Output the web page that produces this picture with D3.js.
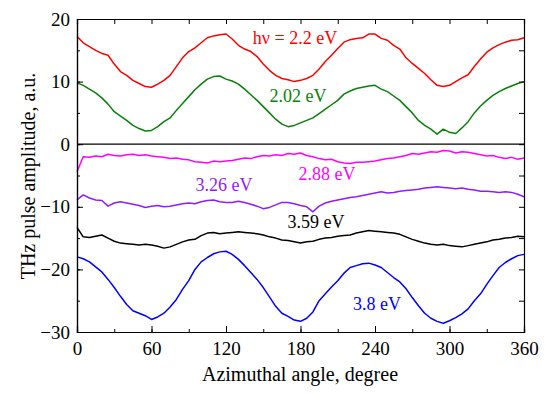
<!DOCTYPE html>
<html>
<head>
<meta charset="utf-8">
<script src="https://d3js.org/d3.v7.min.js"></script>
<style>
  body { margin: 0; background: #fff; }
  svg text { font-family: "Liberation Serif", "Times New Roman", serif; }
</style>
</head>
<body>
<div id="chart"></div>
<script>
// angles, every 5 degrees
const angles = d3.range(0, 361, 5);

// pulse amplitude, one array per photon energy
const red220 = [17.2,16.2,15.6,15.0,14.5,14.2,12.8,11.6,11.0,10.2,9.7,9.2,9.1,9.6,10.2,11.0,12.4,13.8,14.8,15.4,16.2,17.0,17.3,17.5,17.6,16.8,15.8,15.2,14.8,14.0,12.8,11.8,11.0,10.5,10.3,10.0,10.2,10.5,11.0,12.0,13.2,14.2,15.3,16.3,16.7,16.9,17.0,17.6,17.6,16.9,16.6,15.8,15.2,13.8,12.9,12.1,11.3,10.3,9.4,9.2,9.4,10.0,10.6,11.1,12.4,13.6,14.7,15.4,15.9,16.3,16.6,16.7,17.0];
const green202 = [9.8,9.4,8.8,8.2,7.4,6.4,5.2,4.5,3.8,3.0,2.5,2.1,2.2,2.8,3.6,4.2,5.4,6.5,7.6,8.7,9.6,10.4,10.8,10.9,10.4,10.1,9.6,8.8,7.9,7.0,6.0,5.0,4.0,3.2,2.8,3.0,3.4,3.8,4.2,4.9,5.6,6.3,7.0,8.0,8.5,8.9,9.1,9.3,9.4,8.8,8.4,7.7,7.0,6.0,5.0,3.8,3.0,2.4,1.6,2.4,1.9,1.7,2.6,3.6,5.0,6.1,7.0,7.8,8.4,8.9,9.3,9.7,10.0];
const magenta288 = [-4.4,-2.0,-2.1,-1.9,-2.0,-1.6,-1.8,-1.9,-1.7,-1.6,-1.8,-1.7,-1.9,-2.0,-2.1,-2.3,-2.2,-2.4,-2.5,-2.8,-2.9,-3.0,-2.7,-2.8,-2.7,-2.6,-2.4,-2.2,-2.3,-2.0,-1.8,-1.9,-1.7,-1.8,-1.5,-1.6,-1.4,-1.8,-2.0,-2.3,-2.5,-2.4,-2.8,-3.0,-3.1,-2.9,-2.9,-2.8,-2.7,-2.5,-2.3,-2.2,-2.0,-1.8,-1.5,-1.6,-1.4,-1.2,-1.3,-1.0,-1.1,-1.4,-1.2,-1.3,-1.5,-1.7,-1.9,-1.8,-2.1,-2.3,-2.1,-2.4,-2.2];
const violet326 = [-8.9,-8.1,-8.6,-8.9,-9.0,-9.9,-9.4,-9.2,-9.4,-9.6,-9.8,-10.1,-9.9,-9.8,-10.0,-9.9,-9.7,-9.5,-9.4,-9.5,-9.2,-9.0,-8.9,-9.2,-9.3,-9.3,-9.1,-9.3,-9.6,-9.9,-10.3,-10.1,-9.7,-9.3,-9.3,-9.5,-9.8,-10.0,-10.8,-9.9,-9.4,-9.1,-8.9,-8.7,-8.5,-8.4,-8.2,-8.0,-7.8,-7.6,-7.8,-7.7,-7.5,-7.4,-7.3,-7.2,-7.0,-6.9,-6.8,-6.9,-7.0,-7.1,-7.0,-7.2,-7.3,-7.5,-7.5,-7.6,-7.7,-7.6,-7.7,-8.0,-8.4];
const black359 = [-13.3,-14.8,-14.9,-14.7,-14.5,-15.0,-15.5,-15.8,-15.9,-16.0,-16.1,-16.0,-16.1,-16.3,-16.6,-16.4,-16.0,-15.6,-15.3,-15.2,-14.6,-14.2,-14.1,-14.3,-14.2,-14.1,-14.0,-14.1,-14.2,-14.3,-14.5,-14.8,-15.0,-15.3,-15.4,-15.6,-15.8,-15.6,-15.5,-15.2,-15.0,-14.9,-14.7,-14.6,-14.5,-14.2,-14.0,-13.8,-13.9,-14.0,-14.1,-14.2,-14.4,-14.8,-15.2,-15.5,-15.8,-16.0,-16.1,-16.0,-16.2,-16.3,-16.4,-16.2,-16.0,-15.8,-15.6,-15.3,-15.2,-15.0,-14.9,-14.7,-14.8];
const blue380 = [-18.0,-18.3,-18.8,-19.6,-20.4,-21.6,-22.9,-24.3,-25.6,-26.6,-27.0,-27.4,-28.0,-27.6,-27.0,-26.0,-24.8,-23.2,-21.8,-20.0,-18.8,-18.1,-17.5,-17.2,-17.1,-17.6,-18.4,-19.4,-20.5,-21.6,-22.9,-24.4,-25.9,-27.0,-27.5,-28.1,-28.3,-27.8,-26.8,-25.0,-23.9,-22.8,-21.8,-20.6,-19.7,-19.4,-19.1,-19.0,-19.3,-19.7,-20.5,-21.3,-22.0,-23.1,-24.5,-25.8,-27.0,-27.8,-28.3,-28.6,-28.2,-27.7,-27.1,-26.3,-25.0,-23.9,-22.4,-21.0,-19.7,-18.9,-18.3,-17.8,-17.6];

const xTicks = [0, 60, 120, 180, 240, 300, 360];
const yTicks = [-30, -20, -10, 0, 10, 20];

const series = [
  {vals: red220, color: "#ff0000", label: "hν = 2.2 eV", lx: 295, ly: 16.0},
  {vals: green202, color: "#0a800a", label: "2.02 eV", lx: 298, ly: 6.8},
  {vals: magenta288, color: "#ff00ff", label: "2.88 eV", lx: 327, ly: -5.7},
  {vals: violet326, color: "#8f1cff", label: "3.26 eV", lx: 224, ly: -7.4},
  {vals: black359, color: "#000000", label: "3.59 eV", lx: 316, ly: -13.4},
  {vals: blue380, color: "#0000ff", label: "3.8 eV", lx: 377, ly: -26.5}
];

const W = 550, H = 394;
const m = {left: 77, right: 26, top: 19, bottom: 62};
const iw = W - m.left - m.right, ih = H - m.top - m.bottom;

const svg = d3.select("#chart").append("svg")
  .attr("width", W).attr("height", H);
const g = svg.append("g").attr("transform", `translate(${m.left},${m.top})`);

const x = d3.scaleLinear().domain([0, 360]).range([0, iw]);
const y = d3.scaleLinear().domain([-30, 20]).range([ih, 0]);

// curves
const line = d3.line().x((d, i) => x(angles[i])).y(d => y(d));
series.forEach(s => {
  g.append("path").datum(s.vals)
    .attr("d", line)
    .attr("fill", "none")
    .attr("stroke", s.color)
    .attr("stroke-width", 1.5)
    .attr("stroke-linejoin", "round");
});

// zero line
g.append("line")
  .attr("x1", 0).attr("x2", iw)
  .attr("y1", y(0)).attr("y2", y(0))
  .attr("stroke", "#000").attr("stroke-width", 1.2);

// axes, ticks pointing inward
const minorX = d3.range(0, 361, 30), minorY = d3.range(-30, 21, 5);
function styleAxis(sel) {
  sel.select(".domain").attr("stroke", "#000").attr("stroke-width", 1.2);
  sel.selectAll(".tick line").attr("stroke", "#000").attr("stroke-width", 1);
}
const bottom = g.append("g").attr("transform", `translate(0,${ih})`)
  .call(d3.axisBottom(x).tickValues(xTicks).tickSize(-6).tickPadding(10).tickFormat(d3.format("d")));
bottom.call(styleAxis);
bottom.selectAll("text").attr("font-size", 19).attr("fill", "#000");
g.append("g").attr("transform", `translate(0,${ih})`)
  .call(d3.axisBottom(x).tickValues(minorX).tickSize(-3).tickFormat(""))
  .call(styleAxis);

const left = g.append("g")
  .call(d3.axisLeft(y).tickValues(yTicks).tickSize(-6).tickPadding(7).tickFormat(d3.format("d")));
left.call(styleAxis);
left.selectAll("text").attr("font-size", 19).attr("fill", "#000");
g.append("g").call(d3.axisLeft(y).tickValues(minorY).tickSize(-3).tickFormat(""))
  .call(styleAxis);

g.append("g").call(d3.axisTop(x).tickValues(minorX).tickSize(-5).tickFormat(""))
  .call(styleAxis);
g.append("g").attr("transform", `translate(${iw},0)`)
  .call(d3.axisRight(y).tickValues(minorY).tickSize(-5).tickFormat(""))
  .call(styleAxis);

// curve labels
series.forEach(s => {
  g.append("text")
    .attr("x", s.lx - m.left)
    .attr("y", y(s.ly))
    .attr("text-anchor", "middle")
    .attr("font-size", 18)
    .attr("fill", s.color)
    .text(s.label);
});

// axis titles
svg.append("text")
  .attr("x", 300).attr("y", 381)
  .attr("text-anchor", "middle").attr("font-size", 20)
  .text("Azimuthal angle, degree");
svg.append("text")
  .attr("transform", `translate(35,176) rotate(-90)`)
  .attr("text-anchor", "middle").attr("font-size", 20)
  .text("THz pulse amplitude, a.u.");
</script>
</body>
</html>
